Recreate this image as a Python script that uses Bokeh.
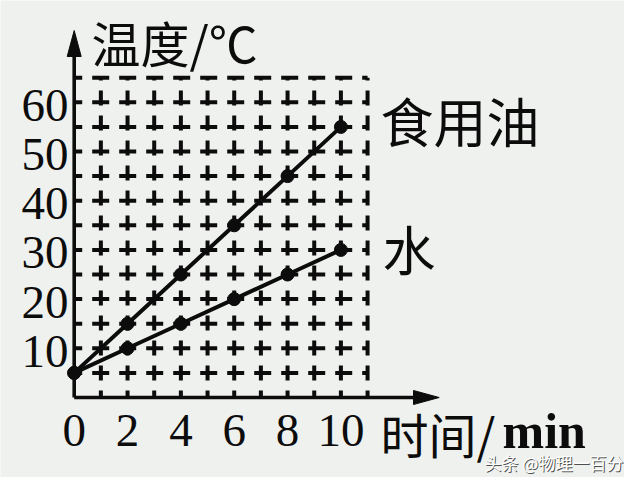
from bokeh.plotting import figure
from bokeh.embed import file_html
from bokeh.resources import INLINE
from bokeh.core.properties import value

# ---- data ----
time_min = [0, 2, 4, 6, 8, 10]
oil_temp = [5, 15, 25, 35, 45, 55]
water_temp = [5, 10, 15, 20, 25, 30]
x_ticks = [0, 2, 4, 6, 8, 10]
x_tick_labels = ["0", "2", "4", "6", "8", "10"]
y_ticks = [10, 20, 30, 40, 50, 60]
y_tick_labels = ["10", "20", "30", "40", "50", "60"]
x_grid = [1, 2, 3, 4, 5, 6, 7, 8, 9, 10, 11]
y_grid = [5, 10, 15, 20, 25, 30, 35, 40, 45, 50, 55, 60, 65]
series_names = ["食用油", "水"]
x_title = "时间/"
x_unit = "min"
y_title = "温度/℃"
watermark = "头条 @物理一百分"

# ---- layout (pixels) ----
W, H = 624, 477
M = 8
X0_PX, Y0_PX = 73.7, 397.0   # origin inside figure (from left / from top)
SX, SY = 26.67, 4.92         # px per data unit


def dx(page_x):
    return (page_x - M - X0_PX) / SX


def dy(page_y):
    return (Y0_PX - (page_y - M)) / SY


BG = "#eff1ee"
INK = "#0c0c0c"
CJK = value("Noto Sans CJK SC")
SERIF = value("Liberation Serif")

p = figure(width=W, height=H,
           x_range=(dx(M), dx(M + W)), y_range=(dy(M + H), dy(M)),
           output_backend="svg", toolbar_location=None,
           x_axis_type=None, y_axis_type=None, min_border=0,
           outline_line_color=None,
           background_fill_color=BG, border_fill_color=BG)

# dashed grid
p.segment(x0=[0] * len(y_grid), y0=y_grid, x1=[x_grid[-1]] * len(y_grid), y1=y_grid,
          line_color=INK, line_width=4, line_dash="17 10", line_dash_offset=9)
p.segment(x0=x_grid, y0=[0] * len(x_grid), x1=x_grid, y1=[y_grid[-1]] * len(x_grid),
          line_color=INK, line_width=4, line_dash="15 10", line_dash_offset=8)

# axes with arrows
x_tip, y_tip = dx(446.7), dy(38)
p.segment(x0=[0, 0], y0=[0, 0], x1=[x_tip - 0.5, 0], y1=[0, y_tip - 3],
          line_color=INK, line_width=3.6)
p.patches(xs=[[0, dx(81.7 - 7), dx(81.7 + 7)], [x_tip, dx(421), dx(421)]],
          ys=[[y_tip, dy(64), dy(64)], [0, dy(405 - 7), dy(405 + 7)]],
          fill_color=INK, line_color=INK)

# data lines
for ys in (oil_temp, water_temp):
    p.line(time_min, ys, line_color=INK, line_width=4)
    p.scatter(time_min, ys, size=13, fill_color=INK, line_color=INK)

# tick labels
p.text(x=[dx(76)] * len(y_ticks), y=[v - 0.6 for v in y_ticks], text=y_tick_labels,
       text_font=SERIF, text_font_size="47px", text_color=INK,
       text_align="right", text_baseline="middle")
p.text(x=x_ticks, y=[dy(438)] * len(x_ticks), text=x_tick_labels,
       text_font=SERIF, text_font_size="47px", text_color=INK,
       text_align="center", text_baseline="middle")

# axis titles
p.text(x=[dx(99)], y=[dy(49)], text=[y_title], text_font=CJK, text_font_size="49px",
       text_color=INK, text_align="left", text_baseline="middle")
p.text(x=[dx(388)], y=[dy(440)], text=[x_title], text_font=CJK, text_font_size="48px",
       text_color=INK, text_align="left", text_baseline="middle")
p.text(x=[dx(510)], y=[dy(438)], text=[x_unit], text_font=SERIF, text_font_size="50px",
       text_font_style="bold", text_color=INK, text_align="left", text_baseline="middle")

# series labels
p.text(x=[dx(388), dx(390)], y=[dy(127), dy(255)], text=series_names,
       text_font=CJK, text_font_size="53px", text_color=INK,
       text_align="left", text_baseline="middle")

# watermark
p.text(x=[dx(493)], y=[dy(471)], text=[watermark], text_font=CJK, text_font_size="17px",
       text_color="#222222", text_alpha=0.8, text_align="left", text_baseline="middle")
p.text(x=[dx(492)], y=[dy(470)], text=[watermark], text_font=CJK, text_font_size="17px",
       text_color="#ffffff", text_align="left", text_baseline="middle")

open("out.html", "w").write(file_html(p, INLINE))
